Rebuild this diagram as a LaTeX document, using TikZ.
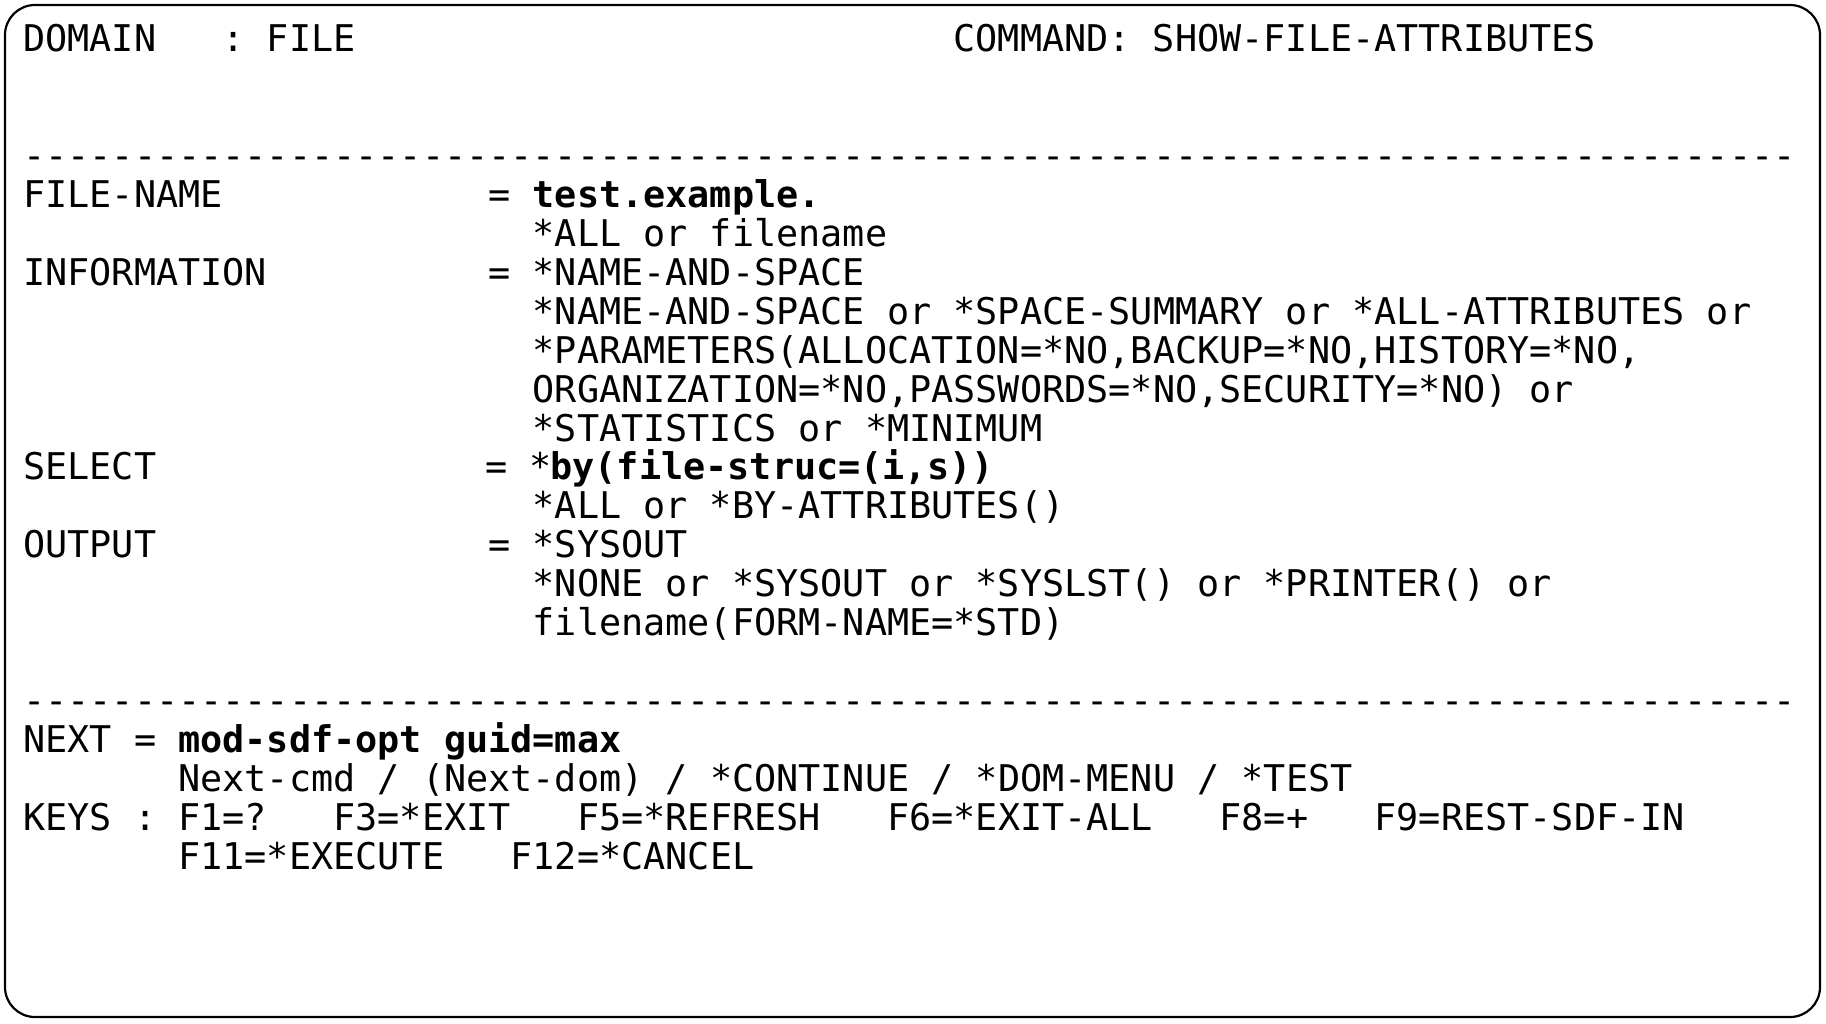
\documentclass[tikz,border=0pt]{standalone}
\usepackage{fontspec}
\setmonofont{DejaVu Sans Mono}
\newcommand\scrfont{\ttfamily\fontsize{18.4}{22}\selectfont}
\newcommand\Tx[4]{\node[txt] (#1) at ({23.3+22.15*(#2)},{51.5+38.95*(#3)}) {#4};}
\newcommand\Tb[4]{\node[txtb] (#1) at ({23.3+22.15*(#2)},{51.5+38.95*(#3)}) {#4};}
\begin{document}
\begin{tikzpicture}[x=0.5pt,y=-0.5pt,
  txt/.style={anchor=base west,inner sep=0pt,outer sep=0pt,font=\scrfont,text=black},
  txtb/.style={txt,font=\scrfont\bfseries},
  frame/.style={draw=black,line width=1.1pt,rounded corners=15pt}]
\useasboundingbox (0,0) rectangle (1826,1023);
\fill[white] (0,0) rectangle (1826,1023);
\draw[frame] (5,5) rectangle (1820,1017);
% header
\Tx{dom}{0}{0}{DOMAIN~~~: FILE}
\Tx{cmd}{42}{0}{COMMAND: SHOW-FILE-ATTRIBUTES}
\Tx{sep1}{0}{3}{--------------------------------------------------------------------------------}
% FILE-NAME
\Tx{fn}{0}{4}{FILE-NAME}
\Tx{fneq}{21}{4}{=}
\Tb{fnval}{23}{4}{test.example.}
\Tx{fnopt}{23}{5}{*ALL or filename}
% INFORMATION
\Tx{inf}{0}{6}{INFORMATION}
\Tx{infval}{21}{6}{= *NAME-AND-SPACE}
\Tx{infopt1}{23}{7}{*NAME-AND-SPACE or *SPACE-SUMMARY or *ALL-ATTRIBUTES or}
\Tx{infopt2}{23}{8}{*PARAMETERS(ALLOCATION=*NO,BACKUP=*NO,HISTORY=*NO,}
\Tx{infopt3}{23}{9}{ORGANIZATION=*NO,PASSWORDS=*NO,SECURITY=*NO) or}
\Tx{infopt4}{23}{10}{*STATISTICS or *MINIMUM}
% SELECT
\Tx{sel}{0}{11}{SELECT}
\Tx{seleq}{20.85}{11}{= *}
\Tb{selval}{23.8}{11}{by(file-struc=(i,s))}
\Tx{selopt}{23}{12}{*ALL or *BY-ATTRIBUTES()}
% OUTPUT
\Tx{out}{0}{13}{OUTPUT}
\Tx{outval}{21}{13}{= *SYSOUT}
\Tx{outopt1}{23}{14}{*NONE or *SYSOUT or *SYSLST() or *PRINTER() or}
\Tx{outopt2}{23}{15}{filename(FORM-NAME=*STD)}
\Tx{sep2}{0}{17}{--------------------------------------------------------------------------------}
% NEXT
\Tx{next}{0}{18}{NEXT =}
\Tb{nextval}{7}{18}{mod-sdf-opt guid=max}
\Tx{nextopt}{7}{19}{Next-cmd / (Next-dom) / *CONTINUE / *DOM-MENU / *TEST}
\Tx{keys1}{0}{20}{KEYS : F1=?~~~F3=*EXIT~~~F5=*REFRESH~~~F6=*EXIT-ALL~~~F8=+~~~F9=REST-SDF-IN}
\Tx{keys2}{7}{21}{F11=*EXECUTE~~~F12=*CANCEL}
\end{tikzpicture}
\end{document}
